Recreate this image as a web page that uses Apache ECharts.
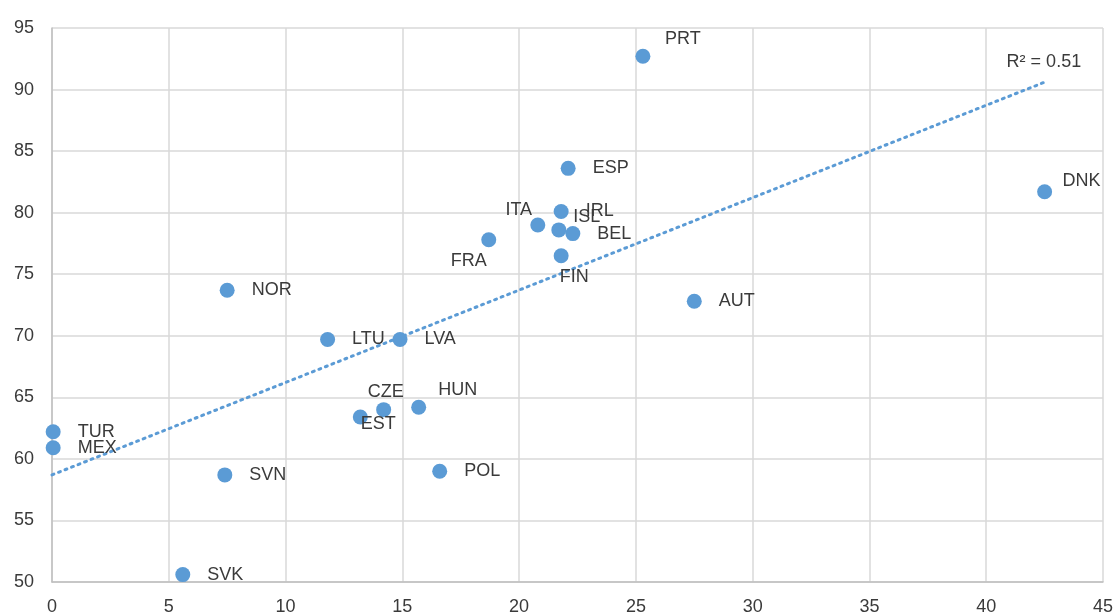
<!DOCTYPE html>
<html>
<head>
<meta charset="utf-8">
<script src="https://cdn.jsdelivr.net/npm/echarts@6/dist/echarts.min.js"></script>
<style>
  html, body { margin: 0; padding: 0; background: #fff; }
  #main { width: 1117px; height: 616px; }
</style>
</head>
<body>
<div id="main"></div>
<script>
var countries = ['PRT', 'ESP', 'DNK', 'IRL', 'ITA', 'ISL', 'BEL', 'FRA', 'FIN', 'AUT', 'NOR',
  'LTU', 'LVA', 'HUN', 'CZE', 'EST', 'TUR', 'MEX', 'SVN', 'POL', 'SVK'];
var xValues = [25.3, 22.1, 42.5, 21.8, 20.8, 21.7, 22.3, 18.7, 21.8, 27.5, 7.5,
  11.8, 14.9, 15.7, 14.2, 13.2, 0.05, 0.05, 7.4, 16.6, 5.6];
var yValues = [92.7, 83.6, 81.7, 80.1, 79.0, 78.6, 78.3, 77.8, 76.5, 72.8, 73.7,
  69.7, 69.7, 64.2, 64.0, 63.4, 62.2, 60.9, 58.7, 59.0, 50.6];
var trendX = [0, 42.5];
var trendY = [58.7, 90.6];
var rSquaredText = 'R² = 0.51';

// labels that sit somewhere other than the right of the marker
var labelOffsets = {
  PRT: [40, -17],
  DNK: [37, -11],
  ISL: [28, -13],
  ITA: [-19, -15],
  FRA: [-20, 21],
  FIN: [13, 21],
  HUN: [39, -17],
  CZE: [2, -18],
  EST: [18, 7]
};

var blue = '#5B9BD5';
var textFont = 'Liberation Sans, Arial, sans-serif';

var points = countries.map(function (name, i) {
  var item = { name: name, value: [xValues[i], yValues[i]] };
  if (labelOffsets[name]) {
    item.label = { position: 'inside', offset: labelOffsets[name] };
  }
  return item;
});

var myChart = echarts.init(document.getElementById('main'));

var option = {
  animation: false,
  grid: {
    left: 52,
    right: 14,
    top: 28,
    bottom: 34,
    containLabel: false,
    outerBoundsMode: 'none'
  },
  xAxis: {
    type: 'value',
    min: 0,
    max: 45,
    interval: 5,
    axisLine: { show: true, onZero: false, lineStyle: { color: '#bfbfbf', width: 1.5 } },
    axisTick: { show: false },
    axisLabel: { color: '#3a3a3a', fontSize: 18, fontFamily: textFont, margin: 16 },
    splitLine: { show: true, lineStyle: { color: '#d9d9d9', width: 1.5 } }
  },
  yAxis: {
    type: 'value',
    min: 50,
    max: 95,
    interval: 5,
    axisLine: { show: true, onZero: false, lineStyle: { color: '#bfbfbf', width: 1.5 } },
    axisTick: { show: false },
    axisLabel: { color: '#3a3a3a', fontSize: 18, fontFamily: textFont, margin: 18 },
    splitLine: { show: true, lineStyle: { color: '#d9d9d9', width: 1.5 } }
  },
  series: [
    {
      name: 'trend',
      type: 'line',
      data: trendX.map(function (x, i) { return [x, trendY[i]]; }),
      showSymbol: false,
      symbol: 'none',
      lineStyle: { color: blue, width: 3, type: [2, 5], cap: 'round' },
      endLabel: {
        show: true,
        formatter: rSquaredText,
        color: '#3a3a3a',
        fontSize: 18,
        fontFamily: textFont,
        offset: [-46, -20]
      },
      z: 1
    },
    {
      name: 'countries',
      type: 'scatter',
      data: points,
      symbolSize: 15,
      itemStyle: { color: blue, opacity: 1 },
      label: {
        show: true,
        position: 'right',
        distance: 17,
        formatter: '{b}',
        color: '#3a3a3a',
        fontSize: 18,
        fontFamily: textFont
      },
      z: 3
    }
  ]
};

option && myChart.setOption(option);
</script>
</body>
</html>
